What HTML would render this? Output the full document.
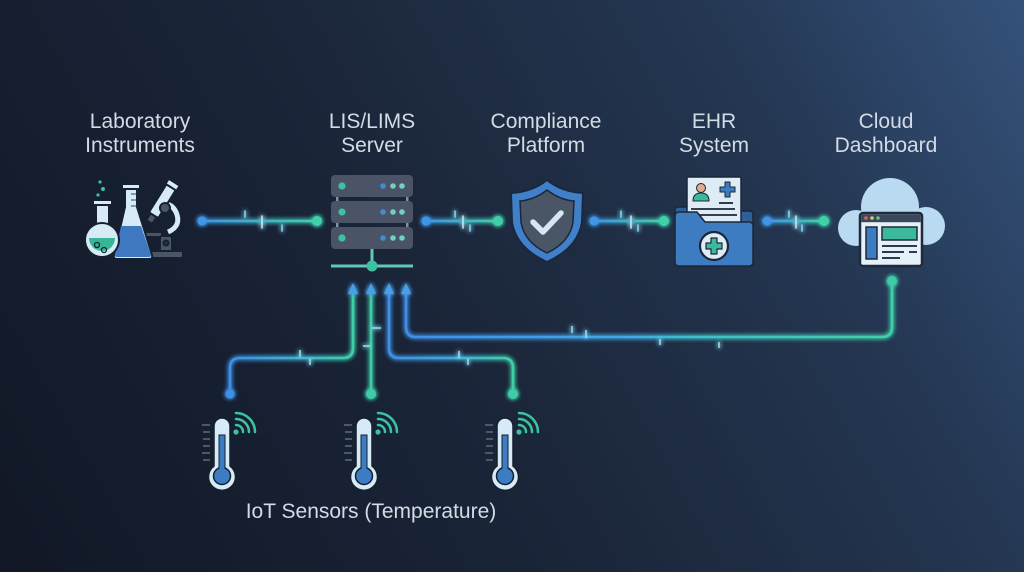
<!DOCTYPE html>
<html>
<head>
<meta charset="utf-8">
<style>
html,body{margin:0;padding:0;width:1024px;height:572px;overflow:hidden;background:#1a2436;}
svg{display:block}
text{font-family:"Liberation Sans","DejaVu Sans",sans-serif;fill:#d3dbe5;font-size:21px;text-anchor:middle;}
</style>
</head>
<body>
<svg width="1024" height="572" viewBox="0 0 1024 572" xmlns="http://www.w3.org/2000/svg">
<defs>
  <linearGradient id="bg" x1="0" y1="572" x2="1024" y2="0" gradientUnits="userSpaceOnUse">
    <stop offset="0" stop-color="#111725"/>
    <stop offset="0.45" stop-color="#1b263a"/>
    <stop offset="0.75" stop-color="#243651"/>
    <stop offset="1" stop-color="#34527b"/>
  </linearGradient>
  <filter id="glow" filterUnits="userSpaceOnUse" x="0" y="0" width="1024" height="572">
    <feGaussianBlur stdDeviation="2.5" result="b"/>
    <feMerge><feMergeNode in="b"/><feMergeNode in="b"/><feMergeNode in="SourceGraphic"/></feMerge>
  </filter>
  <linearGradient id="c1" x1="202" y1="0" x2="317" y2="0" gradientUnits="userSpaceOnUse"><stop offset="0" stop-color="#3f95e6"/><stop offset="1" stop-color="#3fd0a8"/></linearGradient>
  <linearGradient id="c2" x1="426" y1="0" x2="498" y2="0" gradientUnits="userSpaceOnUse"><stop offset="0" stop-color="#3f95e6"/><stop offset="1" stop-color="#3fd0a8"/></linearGradient>
  <linearGradient id="c3" x1="594" y1="0" x2="664" y2="0" gradientUnits="userSpaceOnUse"><stop offset="0" stop-color="#3f95e6"/><stop offset="1" stop-color="#3fd0a8"/></linearGradient>
  <linearGradient id="c4" x1="767" y1="0" x2="824" y2="0" gradientUnits="userSpaceOnUse"><stop offset="0" stop-color="#3f95e6"/><stop offset="1" stop-color="#3fd0a8"/></linearGradient>
  <linearGradient id="pA" x1="230" y1="0" x2="353" y2="0" gradientUnits="userSpaceOnUse"><stop offset="0" stop-color="#3f8fe6"/><stop offset="0.6" stop-color="#3fb3d0"/><stop offset="1" stop-color="#3fd0a8"/></linearGradient>
  <linearGradient id="pC" x1="389" y1="0" x2="513" y2="0" gradientUnits="userSpaceOnUse"><stop offset="0" stop-color="#3f8fe6"/><stop offset="0.5" stop-color="#3fa8dc"/><stop offset="1" stop-color="#3fd0a8"/></linearGradient>
  <linearGradient id="pD" x1="406" y1="0" x2="892" y2="0" gradientUnits="userSpaceOnUse"><stop offset="0" stop-color="#3f8fe6"/><stop offset="0.45" stop-color="#3fa8e6"/><stop offset="0.6" stop-color="#3fc0c8"/><stop offset="1" stop-color="#3fd0a8"/></linearGradient>
</defs>

<rect x="0" y="0" width="1024" height="572" fill="url(#bg)"/>

<!-- Labels -->
<text x="140" y="128">Laboratory</text>
<text x="140" y="152">Instruments</text>
<text x="372" y="128">LIS/LIMS</text>
<text x="372" y="152">Server</text>
<text x="546" y="128">Compliance</text>
<text x="546" y="152">Platform</text>
<text x="714" y="128">EHR</text>
<text x="714" y="152">System</text>
<text x="886" y="128">Cloud</text>
<text x="886" y="152">Dashboard</text>
<text x="371" y="518">IoT Sensors (Temperature)</text>

<!-- Horizontal connectors -->
<g filter="url(#glow)" stroke-linecap="round">
  <line x1="202" y1="221" x2="317" y2="221" stroke="url(#c1)" stroke-width="2.5"/>
  <line x1="426" y1="221" x2="498" y2="221" stroke="url(#c2)" stroke-width="2.5"/>
  <line x1="594" y1="221" x2="664" y2="221" stroke="url(#c3)" stroke-width="2.5"/>
  <line x1="767" y1="221" x2="824" y2="221" stroke="url(#c4)" stroke-width="2.5"/>
  <circle cx="202" cy="221" r="4.5" fill="#3f95e6"/>
  <circle cx="317" cy="221" r="5" fill="#3fd0a8"/>
  <circle cx="426" cy="221" r="4.5" fill="#3f95e6"/>
  <circle cx="498" cy="221" r="5" fill="#3fd0a8"/>
  <circle cx="594" cy="221" r="4.5" fill="#3f95e6"/>
  <circle cx="664" cy="221" r="5" fill="#3fd0a8"/>
  <circle cx="767" cy="221" r="4.5" fill="#3f95e6"/>
  <circle cx="824" cy="221" r="5" fill="#3fd0a8"/>
  <g stroke="#7fdcf5" stroke-width="1.5">
    <line x1="245" y1="211" x2="245" y2="217"/>
    <line x1="262" y1="216" x2="262" y2="228" stroke="#b8f0ff"/>
    <line x1="282" y1="225" x2="282" y2="231"/>
    <line x1="455" y1="211" x2="455" y2="217"/>
    <line x1="463" y1="216" x2="463" y2="228" stroke="#b8f0ff"/>
    <line x1="470" y1="225" x2="470" y2="231"/>
    <line x1="621" y1="211" x2="621" y2="217"/>
    <line x1="631" y1="216" x2="631" y2="228" stroke="#b8f0ff"/>
    <line x1="638" y1="225" x2="638" y2="231"/>
    <line x1="789" y1="211" x2="789" y2="217"/>
    <line x1="796" y1="216" x2="796" y2="228" stroke="#b8f0ff"/>
    <line x1="802" y1="225" x2="802" y2="231"/>
  </g>
</g>

<!-- Lower connectors -->
<g filter="url(#glow)" fill="none" stroke-width="2.6" stroke-linecap="round">
  <path d="M230 394 V368 Q230 358 240 358 H343 Q353 358 353 348 V292" stroke="url(#pA)"/>
  <path d="M371 394 V292" stroke="#3fcaa8"/>
  <path d="M389 292 V348 Q389 358 399 358 H503 Q513 358 513 368 V394" stroke="url(#pC)"/>
  <path d="M406 292 V327 Q406 337 416 337 H882 Q892 337 892 327 V281" stroke="url(#pD)"/>
</g>
<g filter="url(#glow)">
  <circle cx="230" cy="394" r="4.5" fill="#3f8fe6"/>
  <circle cx="371" cy="394" r="5" fill="#3fcaa8"/>
  <circle cx="513" cy="394" r="5" fill="#3fcaa8"/>
  <circle cx="892" cy="281" r="5" fill="#3fcaa8"/>
  <g fill="#4a9fe8">
    <polygon points="353,283 348,294 358,294"/>
    <polygon points="371,283 366,294 376,294"/>
    <polygon points="389,283 384,294 394,294"/>
    <polygon points="406,283 401,294 411,294"/>
  </g>
  <g stroke="#8fe4f8" stroke-width="1.5">
    <line x1="300" y1="350" x2="300" y2="357"/>
    <line x1="310" y1="359" x2="310" y2="365"/>
    <line x1="372" y1="328" x2="381" y2="328"/>
    <line x1="363" y1="346" x2="370" y2="346"/>
    <line x1="459" y1="351" x2="459" y2="358"/>
    <line x1="468" y1="359" x2="468" y2="365"/>
    <line x1="572" y1="326" x2="572" y2="333"/>
    <line x1="586" y1="330" x2="586" y2="338"/>
    <line x1="660" y1="339" x2="660" y2="345"/>
    <line x1="719" y1="342" x2="719" y2="348"/>
  </g>
</g>

<!-- Laboratory instruments -->
<g stroke="#16202e" stroke-width="2" stroke-linejoin="round">
  <circle cx="100" cy="182" r="1.6" fill="#3cc2a0" stroke="none"/>
  <circle cx="103" cy="189" r="2" fill="#3cc2a0" stroke="none"/>
  <circle cx="98" cy="195" r="1.6" fill="#3cc2a0" stroke="none"/>
  <!-- microscope -->
  <path d="M168 232 Q182 226 176 212 Q172 204 165 204" fill="none" stroke="#d6ebf5" stroke-width="5"/>
  <g transform="rotate(32 160 204)">
    <rect x="155" y="183" width="11" height="34" rx="2" fill="#d6ebf5"/>
    <rect x="154" y="178" width="13" height="6" rx="1" fill="#d6ebf5"/>
    <rect x="157" y="217" width="7" height="8" fill="#4a5566"/>
  </g>
  <circle cx="165" cy="208" r="5" fill="#4a5566"/>
  <rect x="138" y="232" width="24" height="5" rx="1" fill="#4a5566"/>
  <rect x="160" y="236" width="12" height="16" rx="2" fill="#4a5566"/>
  <circle cx="166" cy="243" r="2.5" fill="#2a3444"/>
  <rect x="138" y="251" width="45" height="7" rx="2" fill="#4a5566"/>
  <!-- erlenmeyer -->
  <path d="M125 189 V207 L114 255 Q113 259 117 259 H149 Q153 259 152 255 L137 207 V189 Z" fill="#d6ebf5"/>
  <rect x="122" y="184" width="18" height="5" rx="1" fill="#d6ebf5"/>
  <path d="M121 226 H141 L151 255 Q151 257 149 257 H117 Q115 257 115 255 Z" fill="#3d78c0" stroke="none"/>
  <g stroke="#5b7ea8" stroke-width="1.5">
    <line x1="131" y1="194" x2="136" y2="194"/>
    <line x1="131" y1="200" x2="136" y2="200"/>
    <line x1="131" y1="206" x2="136" y2="206"/>
  </g>
  <!-- round flask -->
  <rect x="96" y="203" width="13" height="22" fill="#d6ebf5"/>
  <rect x="93" y="200" width="19" height="5" rx="1" fill="#d6ebf5"/>
  <circle cx="102" cy="240" r="17" fill="#d6ebf5"/>
  <path d="M89 238 H115 A13 13 0 0 1 89 238 Z" fill="#37b597" stroke="none"/>
  <circle cx="97" cy="245" r="2.5" fill="none" stroke="#16202e" stroke-width="1.3"/>
  <circle cx="104" cy="250" r="2.5" fill="none" stroke="#16202e" stroke-width="1.3"/>
</g>

<!-- Server -->
<g>
  <rect x="336" y="196" width="2.5" height="6" fill="#8290a6"/>
  <rect x="406" y="196" width="2.5" height="6" fill="#8290a6"/>
  <rect x="336" y="222" width="2.5" height="6" fill="#8290a6"/>
  <rect x="406" y="222" width="2.5" height="6" fill="#8290a6"/>
  <rect x="331" y="175" width="82" height="22" rx="4" fill="#4a5466"/>
  <rect x="331" y="201" width="82" height="22" rx="4" fill="#4a5466"/>
  <rect x="331" y="227" width="82" height="22" rx="4" fill="#4a5466"/>
  <g fill="#3cc2a0">
    <circle cx="342" cy="186" r="3.6"/><circle cx="342" cy="212" r="3.6"/><circle cx="342" cy="238" r="3.6"/>
  </g>
  <g fill="#3d8fd0">
    <circle cx="383" cy="186" r="2.8"/><circle cx="383" cy="212" r="2.8"/><circle cx="383" cy="238" r="2.8"/>
  </g>
  <g fill="#6fd0c4">
    <circle cx="393" cy="186" r="2.8"/><circle cx="402" cy="186" r="2.8"/>
    <circle cx="393" cy="212" r="2.8"/><circle cx="402" cy="212" r="2.8"/>
    <circle cx="393" cy="238" r="2.8"/><circle cx="402" cy="238" r="2.8"/>
  </g>
  <line x1="372" y1="249" x2="372" y2="266" stroke="#5fc9b5" stroke-width="3"/>
  <line x1="331" y1="266" x2="413" y2="266" stroke="#5fc9b5" stroke-width="3"/>
  <circle cx="372" cy="266" r="5.5" fill="#3cc2a0"/>
</g>

<!-- Shield -->
<g>
  <path d="M547 180 Q562 192 583 193 L582 222 Q578 248 547 262 Q516 248 512 222 L511 193 Q532 192 547 180 Z" fill="#3f80c8" stroke="#1a273c" stroke-width="2"/>
  <path d="M547 190 Q560 200 574 201 L573 222 Q570 242 547 253 Q524 242 521 222 L520 201 Q534 200 547 190 Z" fill="#4a5566" stroke="#1a273c" stroke-width="1.5"/>
  <polyline points="533,222 543,232 561,213" fill="none" stroke="#d5e8ef" stroke-width="5.5" stroke-linecap="round" stroke-linejoin="round"/>
</g>

<!-- EHR -->
<g stroke="#1b2738" stroke-width="1.5" stroke-linejoin="round">
  <path d="M675 265 V210 Q675 207 678 207 H690 L694 211 H750 Q753 211 753 214 V265 Z" fill="#2f5f99"/>
  <rect x="687" y="177" width="54" height="48" rx="1.5" fill="#dfecf6"/>
  <circle cx="701" cy="188" r="4.5" fill="#e2a98a" stroke-width="1"/>
  <path d="M693 201 Q693 193 701 193 Q709 193 709 201 Z" fill="#3cb89c" stroke-width="1"/>
  <path d="M725 182 H730 V187 H735 V192 H730 V197 H725 V192 H720 V187 H725 Z" fill="#3d7cc0" stroke-width="1"/>
  <line x1="719" y1="203" x2="733" y2="203" stroke-width="1.8"/>
  <line x1="691" y1="209" x2="735" y2="209" stroke-width="1.8"/>
  <line x1="691" y1="215" x2="737" y2="215" stroke-width="1.8"/>
  <path d="M675 262 V216 Q675 212 679 212 H697 L705 222 H749 Q753 222 753 226 V262 Q753 266 749 266 H679 Q675 266 675 262 Z" fill="#3d7cc0"/>
  <circle cx="714" cy="246" r="14" fill="#dfecf6" stroke-width="2.2"/>
  <path d="M711 238 H717 V243 H722 V249 H717 V254 H711 V249 H706 V243 H711 Z" fill="#3cb89c" stroke-width="1.2"/>
</g>

<!-- Cloud dashboard -->
<g>
  <g fill="#b9daf0">
    <circle cx="856" cy="228" r="18"/>
    <circle cx="890" cy="207" r="29"/>
    <circle cx="926" cy="226" r="19"/>
    <rect x="852" y="214" width="76" height="33" rx="12"/>
  </g>
  <rect x="860" y="213" width="62" height="53" rx="3" fill="#e6f0f8" stroke="#1e2a3a" stroke-width="2.5"/>
  <rect x="861.2" y="214.2" width="59.6" height="8" fill="#3a485c"/>
  <circle cx="866" cy="218" r="1.8" fill="#e0605a"/>
  <circle cx="872" cy="218" r="1.8" fill="#e8c060"/>
  <circle cx="878" cy="218" r="1.8" fill="#6ac080"/>
  <rect x="866" y="227" width="11" height="32" fill="#3d7cc0" stroke="#1e2a3a" stroke-width="1.5"/>
  <rect x="882" y="227" width="35" height="13" fill="#3cb89c" stroke="#1e2a3a" stroke-width="1.5"/>
  <g stroke="#2a3a50" stroke-width="2">
    <line x1="882" y1="246" x2="917" y2="246"/>
    <line x1="882" y1="252" x2="904" y2="252"/>
    <line x1="909" y1="252" x2="917" y2="252"/>
    <line x1="882" y1="258" x2="900" y2="258"/>
  </g>
</g>

<!-- Thermometers -->
<g id="therms">
  <g>
    <g stroke="#5d6b7e" stroke-width="1.5">
      <line x1="202" y1="425" x2="210" y2="425"/><line x1="203" y1="432" x2="210" y2="432"/>
      <line x1="203" y1="439" x2="210" y2="439"/><line x1="203" y1="446" x2="210" y2="446"/>
      <line x1="202" y1="453" x2="210" y2="453"/><line x1="203" y1="460" x2="210" y2="460"/>
    </g>
    <path d="M214 426 A8 8 0 0 1 230 426 V466 A13.5 13.5 0 1 1 214 466 Z" fill="#d6ebf5" stroke="#14202e" stroke-width="1.5"/>
    <rect x="219" y="435" width="6" height="36" fill="#3c7cc2" stroke="#14202e" stroke-width="1"/>
    <circle cx="222" cy="476" r="8.5" fill="#3c7cc2" stroke="#14202e" stroke-width="1.5"/>
    <rect x="219.5" y="465" width="5" height="8" fill="#3c7cc2"/>
    <circle cx="236" cy="432" r="2.6" fill="#3cc2a0"/>
    <g fill="none" stroke="#3cc2a0" stroke-width="2.5" stroke-linecap="round">
      <path d="M236 425 A7 7 0 0 1 243 432"/>
      <path d="M236 419 A13 13 0 0 1 249 432"/>
      <path d="M236 413 A19 19 0 0 1 255 432"/>
    </g>
  </g>
  <g transform="translate(142 0)">
    <g stroke="#5d6b7e" stroke-width="1.5">
      <line x1="202" y1="425" x2="210" y2="425"/><line x1="203" y1="432" x2="210" y2="432"/>
      <line x1="203" y1="439" x2="210" y2="439"/><line x1="203" y1="446" x2="210" y2="446"/>
      <line x1="202" y1="453" x2="210" y2="453"/><line x1="203" y1="460" x2="210" y2="460"/>
    </g>
    <path d="M214 426 A8 8 0 0 1 230 426 V466 A13.5 13.5 0 1 1 214 466 Z" fill="#d6ebf5" stroke="#14202e" stroke-width="1.5"/>
    <rect x="219" y="435" width="6" height="36" fill="#3c7cc2" stroke="#14202e" stroke-width="1"/>
    <circle cx="222" cy="476" r="8.5" fill="#3c7cc2" stroke="#14202e" stroke-width="1.5"/>
    <rect x="219.5" y="465" width="5" height="8" fill="#3c7cc2"/>
    <circle cx="236" cy="432" r="2.6" fill="#3cc2a0"/>
    <g fill="none" stroke="#3cc2a0" stroke-width="2.5" stroke-linecap="round">
      <path d="M236 425 A7 7 0 0 1 243 432"/>
      <path d="M236 419 A13 13 0 0 1 249 432"/>
      <path d="M236 413 A19 19 0 0 1 255 432"/>
    </g>
  </g>
  <g transform="translate(283 0)">
    <g stroke="#5d6b7e" stroke-width="1.5">
      <line x1="202" y1="425" x2="210" y2="425"/><line x1="203" y1="432" x2="210" y2="432"/>
      <line x1="203" y1="439" x2="210" y2="439"/><line x1="203" y1="446" x2="210" y2="446"/>
      <line x1="202" y1="453" x2="210" y2="453"/><line x1="203" y1="460" x2="210" y2="460"/>
    </g>
    <path d="M214 426 A8 8 0 0 1 230 426 V466 A13.5 13.5 0 1 1 214 466 Z" fill="#d6ebf5" stroke="#14202e" stroke-width="1.5"/>
    <rect x="219" y="435" width="6" height="36" fill="#3c7cc2" stroke="#14202e" stroke-width="1"/>
    <circle cx="222" cy="476" r="8.5" fill="#3c7cc2" stroke="#14202e" stroke-width="1.5"/>
    <rect x="219.5" y="465" width="5" height="8" fill="#3c7cc2"/>
    <circle cx="236" cy="432" r="2.6" fill="#3cc2a0"/>
    <g fill="none" stroke="#3cc2a0" stroke-width="2.5" stroke-linecap="round">
      <path d="M236 425 A7 7 0 0 1 243 432"/>
      <path d="M236 419 A13 13 0 0 1 249 432"/>
      <path d="M236 413 A19 19 0 0 1 255 432"/>
    </g>
  </g>
</g>
</svg>
</body>
</html>
